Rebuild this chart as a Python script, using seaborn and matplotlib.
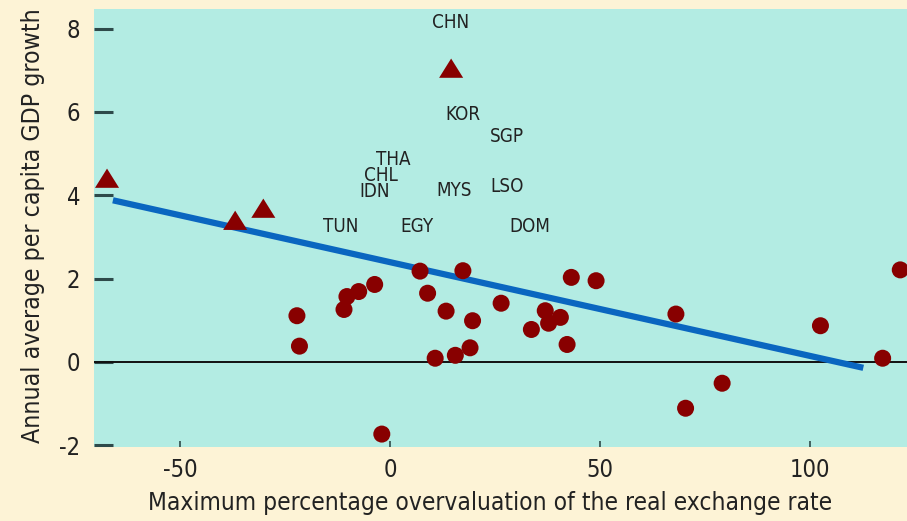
import matplotlib
matplotlib.use("Agg")
import matplotlib.pyplot as plt
from matplotlib import font_manager as fm
from matplotlib.path import Path
import seaborn as sns
import pandas as pd
import os

# ---- data ----
circle_x = [-22.2, -21.6, -11.0, -10.3, -7.5, -3.7, 7.1, 17.3, 8.9, 13.3, 19.6, 19.0,
            15.5, 10.7, 26.4, 43.1, 49.0, 36.9, 40.5, 37.7, 33.6, 42.1, -2.0,
            68.0, 79.0, 70.3, 102.4, 117.2, 121.4]
circle_y = [1.11, 0.38, 1.26, 1.57, 1.69, 1.86, 2.18, 2.19, 1.65, 1.22, 0.99, 0.34,
            0.16, 0.09, 1.41, 2.03, 1.95, 1.23, 1.07, 0.93, 0.78, 0.42, -1.73,
            1.15, -0.51, -1.11, 0.87, 0.09, 2.21]
tri_x = [-67.4, -36.9, -30.2, 14.5]
tri_y = [4.41, 3.40, 3.69, 7.05]

label_names = ["CHN", "KOR", "SGP", "THA", "CHL", "IDN", "MYS", "LSO", "TUN", "EGY", "DOM"]
label_x = [14.3, 17.4, 27.9, 0.7, -2.1, -3.6, 15.2, 27.9, -11.7, 6.4, 33.3]
label_y = [8.15, 5.95, 5.42, 4.87, 4.48, 4.08, 4.12, 4.22, 3.24, 3.26, 3.24]

fit_x = [-66.0, 112.6]
fit_y = [3.88, -0.14]

x_ticks = [-50, 0, 50, 100]
y_ticks = [-2, 0, 2, 4, 6, 8]

x_title = "Maximum percentage overvaluation of the real exchange rate"
y_title = "Annual average per capita GDP growth"

# ---- style ----
sns.set_theme(style="white")

# look for a condensed / narrow sans font
narrow_name = None
prefs = ["LiberationSansNarrow-Regular", "DejaVuSansCondensed.ttf", "RobotoCondensed",
         "OpenSans_Condensed", "OpenSansCondensed", "NotoSans-Condensed", "Condensed", "Narrow"]
files = fm.findSystemFonts()
found = None
for p in prefs:
    for f in files:
        b = os.path.basename(f)
        if p.lower() in b.lower() and "bold" not in b.lower() and "italic" not in b.lower() \
                and "oblique" not in b.lower() and "light" not in b.lower():
            found = f
            break
    if found:
        break
if found:
    fm.fontManager.addfont(found)
    narrow_name = fm.FontProperties(fname=found).get_name()

if narrow_name:
    plt.rcParams['font.family'] = [narrow_name, 'DejaVu Sans']
    plt.rcParams['font.stretch'] = 'condensed'
else:
    plt.rcParams['font.family'] = ['DejaVu Sans']

FIG_BG = "#FDF3D6"
AX_BG = "#B3ECE3"
DOT = "#880000"
LINE = "#0A66C0"
TXT = "#222222"

fig = plt.figure(figsize=(9.07, 5.21), dpi=100, facecolor=FIG_BG)
ax = fig.add_axes([94/907, 1 - 447/521, 1 - 94/907, (447 - 9)/521])
ax.set_facecolor(AX_BG)

df_c = pd.DataFrame({"x": circle_x, "y": circle_y})
df_t = pd.DataFrame({"x": tri_x, "y": tri_y})
df_f = pd.DataFrame({"x": fit_x, "y": fit_y})

tri_marker = Path([(0, 0.8), (-1, -0.8), (1, -0.8), (0, 0.8)],
                  [Path.MOVETO, Path.LINETO, Path.LINETO, Path.CLOSEPOLY])

ax.axhline(0, color="#111111", lw=1.4, zorder=1)
sns.lineplot(data=df_f, x="x", y="y", ax=ax, color=LINE, lw=4.5, zorder=2,
             solid_capstyle="butt")
sns.scatterplot(data=df_c, x="x", y="y", ax=ax, marker="o", s=150, color=DOT,
                edgecolor="none", linewidth=0, zorder=3)
sns.scatterplot(data=df_t, x="x", y="y", ax=ax, marker=tri_marker, s=300, color=DOT,
                edgecolor="none", linewidth=0, zorder=3)

lab_fs = 13.5 if narrow_name else 11
for n, lx, ly in zip(label_names, label_x, label_y):
    ax.text(lx, ly, n, ha="center", va="center", fontsize=lab_fs, color=TXT, zorder=4)

ax.set_xlim(-70.5, 123)
ax.set_ylim(-2.04, 8.47)
ax.set_xticks(x_ticks)
ax.set_yticks(y_ticks)
ax.set_xticklabels([str(v) for v in x_ticks])
ax.set_yticklabels([str(v) for v in y_ticks])
tick_fs = 17 if narrow_name else 15
ax.tick_params(axis="y", direction="in", length=14, width=2.2, color="#2E4A4A",
               pad=10, labelsize=tick_fs, labelcolor=TXT, left=True)
ax.tick_params(axis="x", direction="in", length=4, width=1.2, color="#2E4A4A",
               pad=8, labelsize=tick_fs, labelcolor=TXT, bottom=True)
for s in ax.spines.values():
    s.set_visible(False)

title_fs_x = 17.6 if narrow_name else 14
title_fs_y = 17.8 if narrow_name else 14
ax.set_xlabel(x_title, fontsize=title_fs_x, color=TXT)
ax.set_ylabel(y_title, fontsize=title_fs_y, color=TXT)
ax.xaxis.set_label_coords((490 - 94) / 813, -(491 - 447) / 438)
ax.yaxis.set_label_coords((45 - 94) / 813, (447 - 226) / 438)

fig.savefig("out.png", dpi=100, facecolor=FIG_BG)
